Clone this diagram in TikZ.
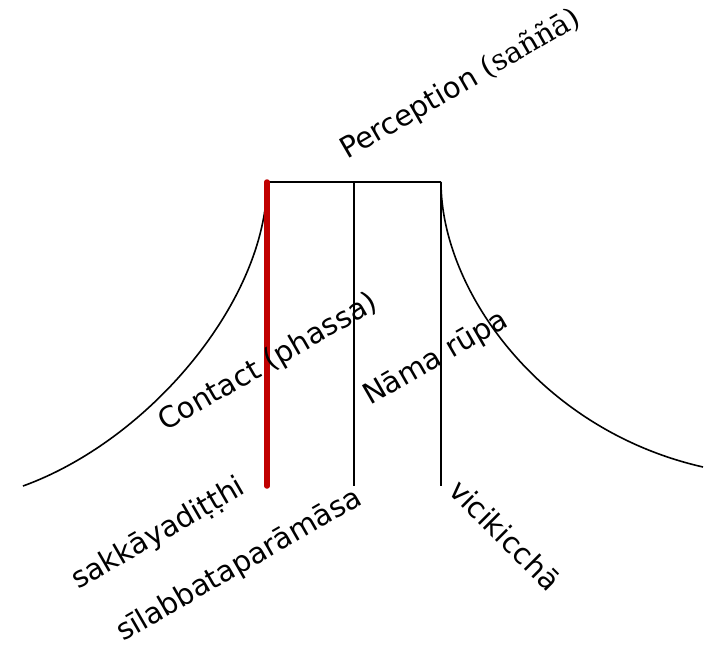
\documentclass[tikz,border=0pt]{standalone}
\usepackage{fontspec}
\setmainfont{DejaVu Sans}
\newfontfamily\palifont{DejaVu Serif}
\usetikzlibrary{positioning}
\definecolor{fetterred}{RGB}{192,0,0}
\tikzset{
  edge/.style={draw=black, line width=1.6pt},
  fetter/.style={draw=fetterred, line width=5.5pt, line cap=round},
  lbl/.style={anchor=base west, inner sep=0pt, font=\fontsize{29}{34}\selectfont},
}

\begin{document}
\begin{tikzpicture}[x=1pt,y=-1pt]
\useasboundingbox (0,0) rectangle (710,648);
% corners of the frame
\coordinate (tl) at (267,182);
\coordinate (tm) at (354,182);
\coordinate (tr) at (441,182);
\coordinate (bl) at (267,486);
\coordinate (bm) at (354,486);
\coordinate (br) at (441,486);
\coordinate (el) at (23,486);
\coordinate (er) at (703,467);
% flanks
\draw[edge] (el) .. controls (150,440) and (267,300) .. (tl);
\draw[edge] (tr) .. controls (441,290) and (540,430) .. (er);
% top bar and posts
\draw[edge] (tl) -- (tr);
\draw[edge] (tm) -- (bm);
\draw[edge] (tr) -- (br);
\draw[fetter] (tl) -- (bl);
% labels
\node[lbl, rotate=30] (percept) at (347,160) {Perception {\palifont(saññā)}};
\node[lbl, rotate=30] (contact) at (165,432) {Contact (phassa)};
\node[lbl, rotate=30] (nama) at (370,406) {Nāma rūpa};
\node[lbl, rotate=30] (sakkaya) at (78,590) {sakkāyadiṭṭhi};
\node[lbl, rotate=30] (silabbata) at (123,642) {sīlabbataparāmāsa};
\node[lbl, rotate=-45] (vicik) at (447,492) {vicikicchā};
\end{tikzpicture}
\end{document}
